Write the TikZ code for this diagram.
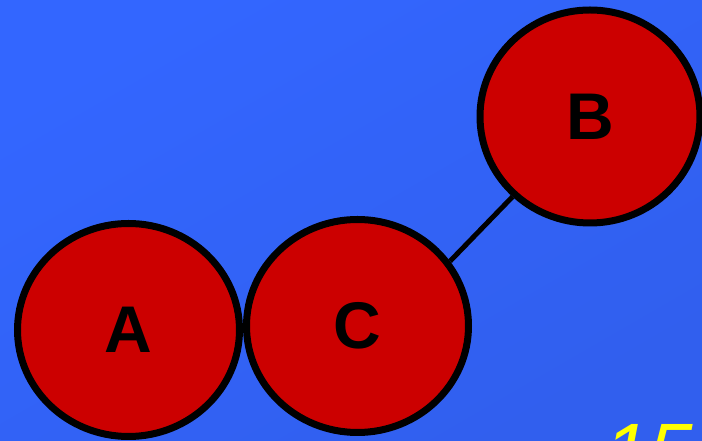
\documentclass[tikz,border=0pt]{standalone}
\usepackage{fontspec}
\usepackage{tikz}
\usetikzlibrary{shapes.geometric}
\newfontfamily\bubblefont{Liberation Sans}
\definecolor{SKY}{HTML}{3366FF}
\definecolor{SKYDARK}{HTML}{315FEE}
\definecolor{BALL}{HTML}{CC0000}
\definecolor{NUM}{HTML}{FFFF00}
\begin{document}
\begin{tikzpicture}[x=1pt,y=1pt]
\tikzset{ball/.style={ellipse,draw=black,line width=7pt,fill=BALL,minimum width=222pt,minimum height=213pt,
 inner sep=0pt,font=\bubblefont\bfseries\fontsize{66}{66}\selectfont},
 bond/.style={line width=5pt,black}}
\shade[top color=SKY,bottom color=SKYDARK,shading angle=30] (0,0) rectangle (702,441);
\useasboundingbox (0,0) rectangle (702,441);
\node[ball] (a) at (128.5,111) {A};
\node[ball] (c) at (357.5,115) {C};
\node[ball,minimum width=220pt] (b) at (590,324.5) {B};
\draw[bond] (c.35) -- (b.226);
\node[anchor=north west,inner sep=0pt,text=NUM,font=\bubblefont\itshape\fontsize{80}{80}\selectfont] (page) at (604,17) {15};
\end{tikzpicture}
\end{document}
